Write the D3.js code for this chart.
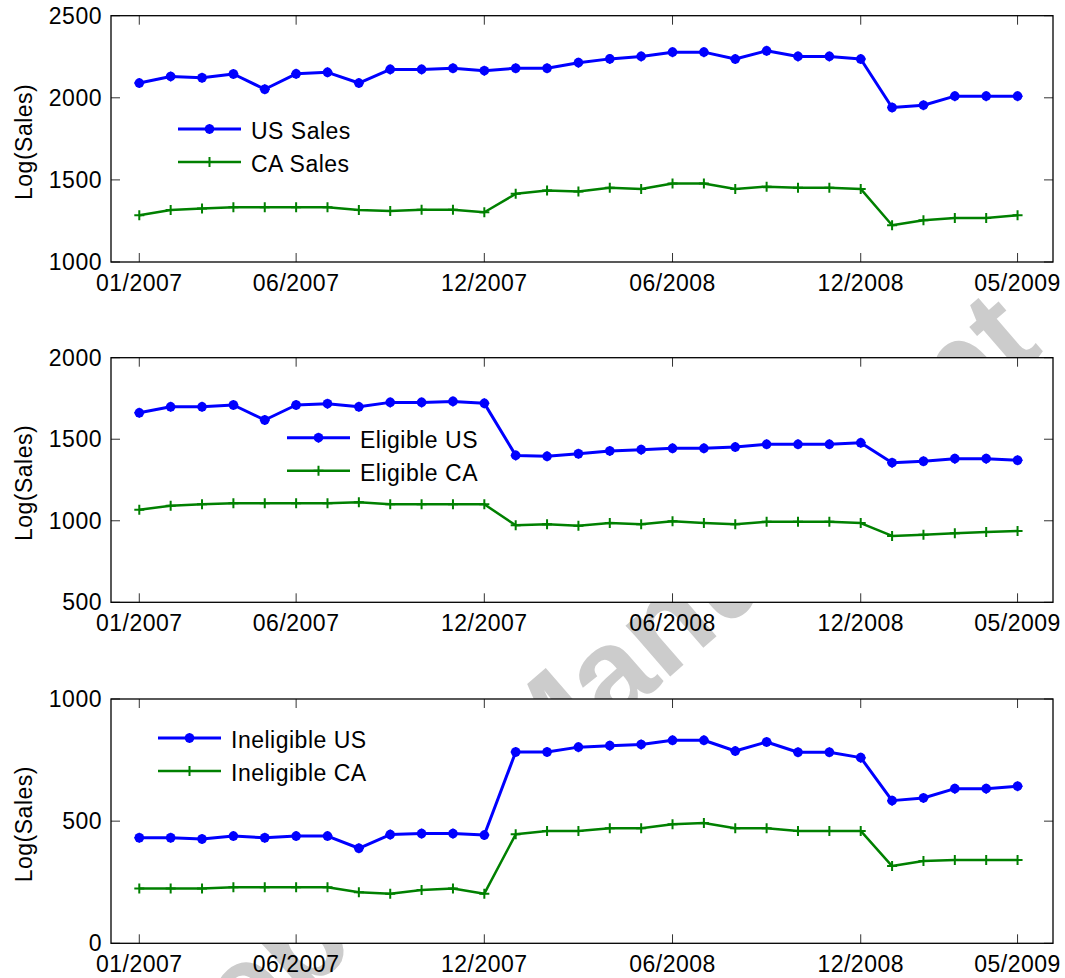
<!DOCTYPE html>
<html>
<head>
<meta charset="utf-8">
<script src="https://cdn.jsdelivr.net/npm/d3@7"></script>
<style>
  body { margin: 0; background: #fff; }
  svg text { font-family: 'Liberation Sans', Arial, sans-serif; }
</style>
</head>
<body>
<svg id="chart" width="1065" height="978"></svg>
<script>
// monthly series, 01/2007 .. 05/2009 (29 months)
const tickIdx = [0, 5, 11, 17, 23, 28];
const tickLabels = ['01/2007', '06/2007', '12/2007', '06/2008', '12/2008', '05/2009'];

const usSales = [2090, 2130, 2122, 2145, 2052, 2146, 2155, 2090, 2173, 2173, 2180, 2165, 2180, 2180, 2214, 2237,
  2252, 2278, 2278, 2236, 2286, 2252, 2252, 2236, 1941, 1955, 2010, 2010, 2010];
const caSales = [1285, 1317, 1326, 1333, 1333, 1333, 1333, 1317, 1311, 1318, 1318, 1303, 1415, 1435, 1429, 1452,
  1445, 1478, 1478, 1445, 1459, 1452, 1452, 1445, 1224, 1254, 1268, 1268, 1285];
const eligUS = [1662, 1699, 1699, 1710, 1618, 1710, 1718, 1699, 1726, 1726, 1732, 1720, 1401, 1395, 1411, 1428,
  1436, 1444, 1444, 1452, 1469, 1469, 1469, 1478, 1356, 1365, 1381, 1381, 1371];
const eligCA = [1068, 1092, 1101, 1107, 1107, 1107, 1107, 1113, 1101, 1101, 1101, 1101, 972, 978, 970, 986,
  978, 997, 986, 978, 994, 994, 994, 986, 907, 915, 923, 931, 937];
const inelUS = [432, 432, 427, 439, 432, 439, 439, 389, 445, 449, 449, 443, 783, 783, 803, 809,
  814, 831, 831, 787, 824, 782, 782, 760, 584, 595, 633, 633, 643];
const inelCA = [224, 224, 224, 229, 229, 229, 229, 209, 203, 218, 224, 203, 446, 460, 460, 471,
  471, 487, 492, 471, 471, 460, 460, 460, 316, 337, 341, 341, 341];

const panels = [
  { top: 15.7, bottom: 262, yDomain: [1000, 2500], yTicks: [1000, 1500, 2000, 2500],
    us: usSales, ca: caSales, names: ['US Sales', 'CA Sales'], legend: { x: 178, y: 129 } },
  { top: 357.7, bottom: 602.3, yDomain: [500, 2000], yTicks: [500, 1000, 1500, 2000],
    us: eligUS, ca: eligCA, names: ['Eligible US', 'Eligible CA'], legend: { x: 287, y: 437.7 } },
  { top: 699, bottom: 943.3, yDomain: [0, 1000], yTicks: [0, 500, 1000],
    us: inelUS, ca: inelCA, names: ['Ineligible US', 'Ineligible CA'], legend: { x: 158, y: 738 } },
];

const BLUE = '#0000ff';
const GREEN = '#008000';
const left = 111;
const right = 1053;
const fontSize = 23;

const svg = d3.select('#chart');

// watermark sits behind the white axes
svg.append('text')
  .attr('transform', 'translate(527,742) rotate(-41)')
  .attr('text-anchor', 'middle')
  .attr('dominant-baseline', 'central')
  .attr('font-size', 128)
  .attr('font-weight', 'bold')
  .attr('fill', '#cccccc')
  .text('Accepted Manuscript');

const x = d3.scaleLinear().domain([-0.902, 29.13]).range([left, right]);

function drawMarker(g, type, color) {
  if (type === 'dot') {
    g.append('circle').attr('r', 4.8).attr('fill', color);
    g.append('path').attr('d', 'M-5,0H5M0,-5V5').attr('stroke', color).attr('stroke-width', 1.5);
  } else {
    g.append('path').attr('d', 'M-5,0H5M0,-5V5').attr('stroke', color).attr('stroke-width', 2);
  }
}

panels.forEach((p) => {
  const y = d3.scaleLinear().domain(p.yDomain).range([p.bottom, p.top]);
  const g = svg.append('g');

  g.append('rect')
    .attr('x', left).attr('y', p.top)
    .attr('width', right - left).attr('height', p.bottom - p.top)
    .attr('fill', '#fff');

  // x ticks (inside, top and bottom)
  tickIdx.forEach((t, i) => {
    const tx = x(t);
    g.append('line').attr('x1', tx).attr('x2', tx).attr('y1', p.bottom).attr('y2', p.bottom - 9)
      .attr('stroke', '#333').attr('stroke-width', 1);
    g.append('line').attr('x1', tx).attr('x2', tx).attr('y1', p.top).attr('y2', p.top + 9)
      .attr('stroke', '#333').attr('stroke-width', 1);
    g.append('text')
      .attr('x', tx).attr('y', p.bottom + 29)
      .attr('text-anchor', 'middle')
      .attr('font-size', fontSize).attr('letter-spacing', 0.5)
      .text(tickLabels[i]);
  });

  // y ticks (inside, left and right)
  p.yTicks.forEach((v) => {
    const ty = y(v);
    g.append('line').attr('x1', left).attr('x2', left + 9).attr('y1', ty).attr('y2', ty)
      .attr('stroke', '#333').attr('stroke-width', 1);
    g.append('line').attr('x1', right).attr('x2', right - 9).attr('y1', ty).attr('y2', ty)
      .attr('stroke', '#333').attr('stroke-width', 1);
    g.append('text')
      .attr('x', 102).attr('y', ty + 8)
      .attr('text-anchor', 'end')
      .attr('font-size', fontSize).attr('letter-spacing', 0.5)
      .text(v);
  });

  g.append('text')
    .attr('transform', `translate(32,${(p.top + p.bottom) / 2 + 3}) rotate(-90)`)
    .attr('text-anchor', 'middle')
    .attr('font-size', fontSize).attr('letter-spacing', 0.5)
    .text('Log(Sales)');

  const line = d3.line().x((d, i) => x(i)).y((d) => y(d));

  [[p.us, BLUE, 3, 'dot'], [p.ca, GREEN, 2.5, 'plus']].forEach(([vals, color, w, type]) => {
    g.append('path')
      .datum(vals)
      .attr('d', line)
      .attr('fill', 'none')
      .attr('stroke', color)
      .attr('stroke-width', w)
      .attr('stroke-linejoin', 'round');
    vals.forEach((v, i) => {
      const m = g.append('g').attr('transform', `translate(${x(i)},${y(v)})`);
      drawMarker(m, type, color);
    });
  });

  // legend, no box
  const lg = g.append('g').attr('transform', `translate(${p.legend.x},${p.legend.y})`);
  [[BLUE, 3, 'dot'], [GREEN, 2.5, 'plus']].forEach(([color, w, type], i) => {
    const ly = i * 33;
    lg.append('line').attr('x1', 0).attr('x2', 63).attr('y1', ly).attr('y2', ly)
      .attr('stroke', color).attr('stroke-width', w);
    drawMarker(lg.append('g').attr('transform', `translate(31.5,${ly})`), type, color);
    lg.append('text')
      .attr('x', 73).attr('y', ly + 10)
      .attr('font-size', fontSize).attr('letter-spacing', 0.5)
      .text(p.names[i]);
  });

  g.append('rect')
    .attr('x', left).attr('y', p.top)
    .attr('width', right - left).attr('height', p.bottom - p.top)
    .attr('fill', 'none').attr('stroke', '#000').attr('stroke-width', 1.3);
});
</script>
</body>
</html>
